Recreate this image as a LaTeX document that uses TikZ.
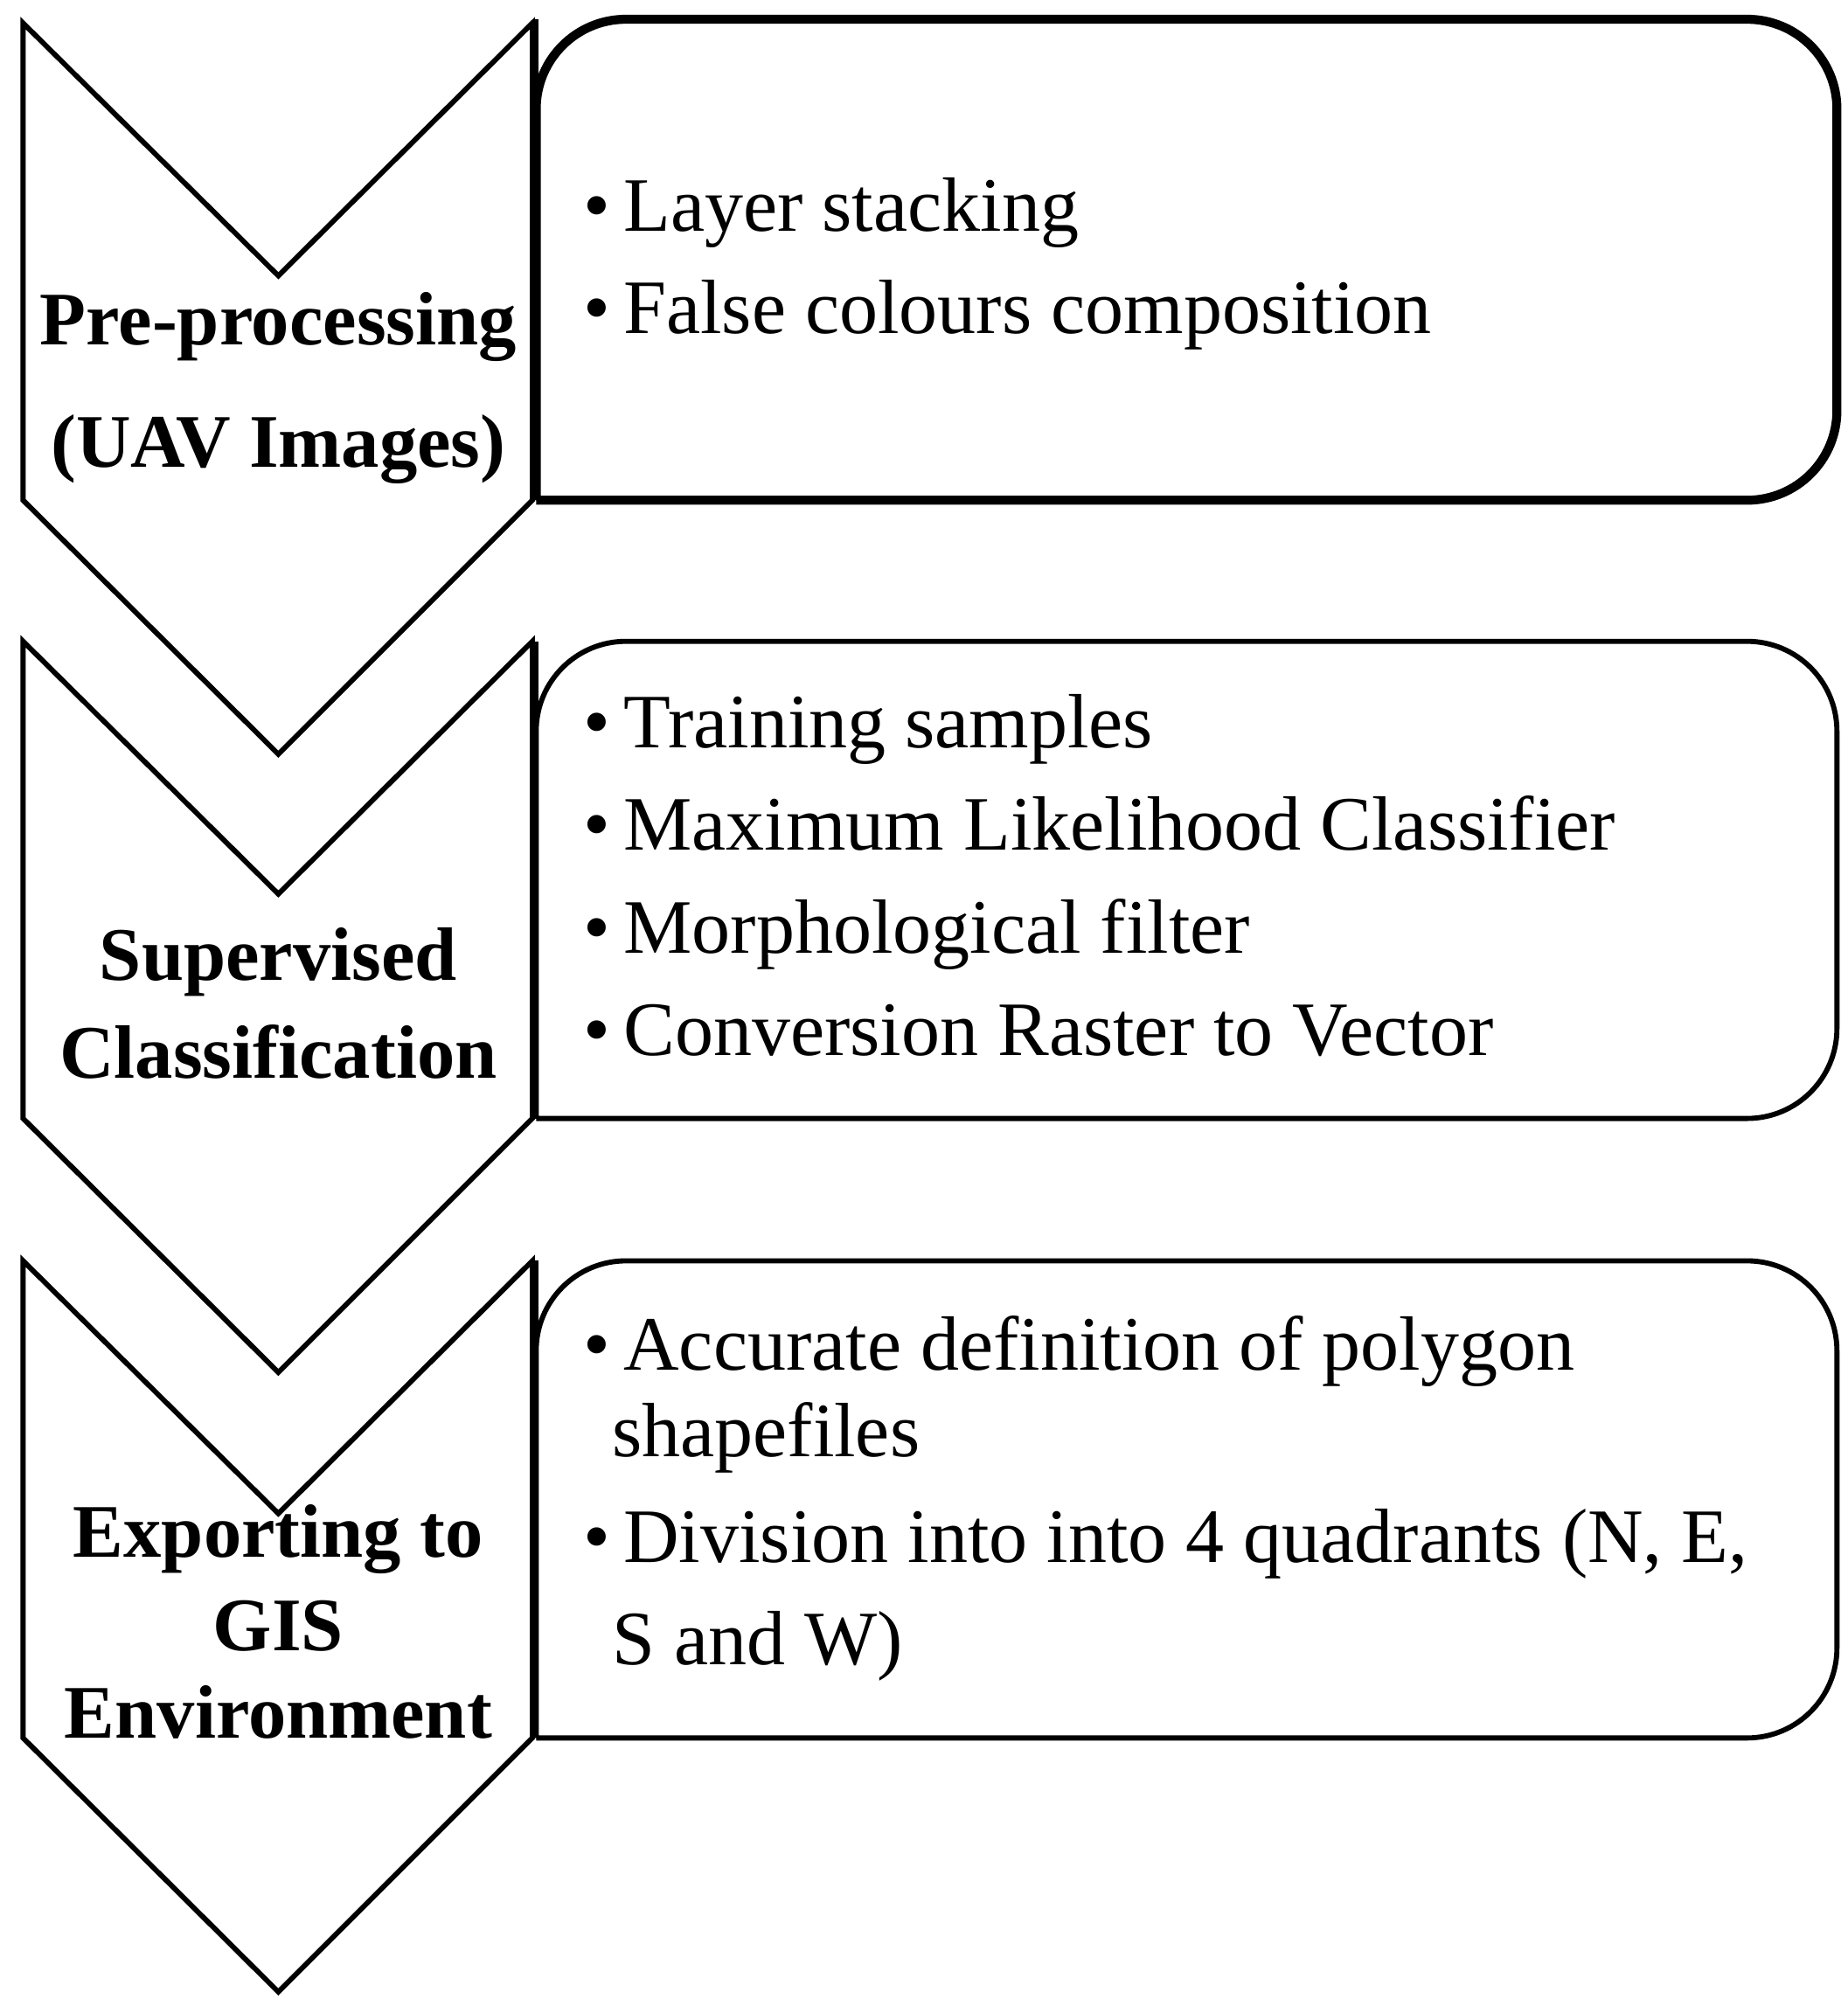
\documentclass[tikz,border=0pt]{standalone}
\usepackage{fontspec}
\setmainfont{Liberation Serif}
\begin{document}
\begin{tikzpicture}[x=1pt,y=-1pt,
  chev/.style={line width=4pt,line join=miter},
  box/.style={line width=4pt,rounded corners=70pt},
  item/.style={anchor=base west,inner sep=0pt,font=\fontsize{60}{70}\selectfont},
  lab/.style={inner sep=0pt,font=\bfseries\fontsize{59}{70}\selectfont}]
\useasboundingbox (0,0) rectangle (1440,1564);
% chevrons
\foreach \t in {18,500,983}{
  \draw[chev] (18,\t) -- (217,\t+197) -- (415,\t) -- (415,\t+372) -- (217,\t+570) -- (18,\t+372) -- cycle;
}
% boxes
\draw[box,line width=7pt] (418,390) -- (418,15) [rounded corners=70pt] -- (1432,15) -- (1432,390) [sharp corners] -- (418,390);
\draw[box] (418,872) -- (418,500) -- (1432,500) -- (1432,872) [sharp corners] -- (418,872);
\draw[box] (418,1355) -- (418,983) -- (1432,983) -- (1432,1355) [sharp corners] -- (418,1355);
\draw[line width=4pt] (418,390) -- (418,15);
\draw[line width=4pt] (418,872) -- (418,500);
\draw[line width=4pt] (418,1355) -- (418,983);
% labels
\node[lab] (l1a) at (217,255) {Pre-processing};
\node[lab] (l1b) at (217,350) {(UAV Images)};
\node[lab] (l2a) at (217,750) {Supervised};
\node[lab] (l2b) at (217,820) {Classification};
\node[lab] (l3a) at (217,1200) {Exporting to};
\node[lab] (l3b) at (217,1268) {GIS};
\node[lab] (l3c) at (217,1335) {Environment};
% items
\node[item] (a1) at (455,180) {\textbullet\,Layer stacking};
\node[item] (a2) at (455,260) {\textbullet\,False colours composition};
\node[item] (b1) at (455,583) {\textbullet\,Training samples};
\node[item] (b2) at (455,663) {\textbullet\,Maximum Likelihood Classifier};
\node[item] (b3) at (455,743) {\textbullet\,Morphological filter};
\node[item] (b4) at (455,823) {\textbullet\,Conversion Raster to Vector};
\node[item] (c1) at (455,1068) {\textbullet\,Accurate definition of polygon};
\node[item] (c2) at (477,1136) {shapefiles};
\node[item] (c3) at (455,1218) {\textbullet\,Division into into 4 quadrants (N, E,};
\node[item] (c4) at (477,1298) {S and W)};
\end{tikzpicture}
\end{document}
